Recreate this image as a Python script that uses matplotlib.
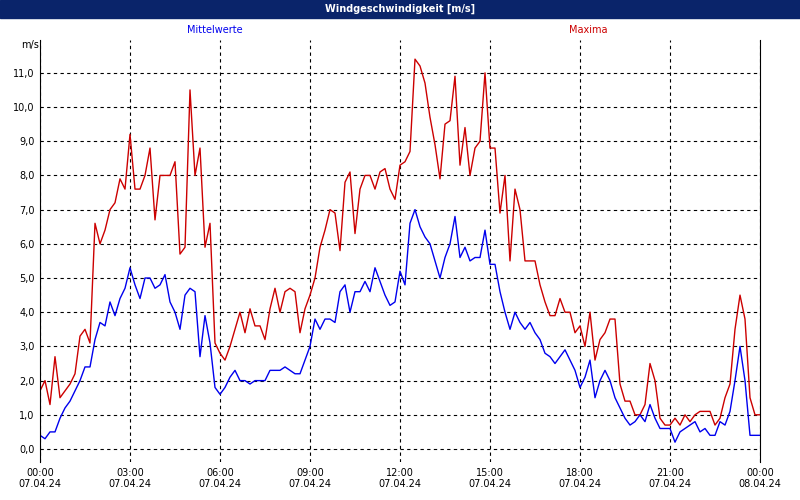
import matplotlib
matplotlib.use("Agg")
import matplotlib.pyplot as plt
import numpy as np

maxima = [1.7, 2.0, 1.3, 2.7, 1.5, 1.7,
          1.9, 2.2, 3.3, 3.5, 3.1, 6.6,
          6.0, 6.4, 7.0, 7.2, 7.9, 7.6,
          9.2, 7.6, 7.6, 8.0, 8.8, 6.7,
          8.0, 8.0, 8.0, 8.4, 5.7, 5.9,
          10.5, 8.0, 8.8, 5.9, 6.6, 3.1,
          2.8, 2.6, 3.0, 3.5, 4.0, 3.4,
          4.1, 3.6, 3.6, 3.2, 4.1, 4.7,
          4.0, 4.6, 4.7, 4.6, 3.4, 4.1,
          4.5, 5.0, 5.9, 6.4, 7.0, 6.9,
          5.8, 7.8, 8.1, 6.3, 7.6, 8.0,
          8.0, 7.6, 8.1, 8.2, 7.6, 7.3,
          8.3, 8.4, 8.7, 11.4, 11.2, 10.7,
          9.7, 8.9, 7.9, 9.5, 9.6, 10.9,
          8.3, 9.4, 8.0, 8.8, 9.0, 11.0,
          8.8, 8.8, 6.9, 8.0, 5.5, 7.6,
          7.0, 5.5, 5.5, 5.5, 4.8, 4.3,
          3.9, 3.9, 4.4, 4.0, 4.0, 3.4,
          3.6, 3.0, 4.0, 2.6, 3.2, 3.4,
          3.8, 3.8, 1.9, 1.4, 1.4, 1.0,
          1.0, 1.3, 2.5, 2.0, 0.9, 0.7,
          0.7, 0.9, 0.7, 1.0, 0.8, 1.0,
          1.1, 1.1, 1.1, 0.7, 0.9, 1.5,
          1.9, 3.5, 4.5, 3.8, 1.5, 1.0,
          1.0]
mittel = [0.4, 0.3, 0.5, 0.5, 0.9, 1.2,
          1.4, 1.7, 2.0, 2.4, 2.4, 3.2,
          3.7, 3.6, 4.3, 3.9, 4.4, 4.7,
          5.3, 4.8, 4.4, 5.0, 5.0, 4.7,
          4.8, 5.1, 4.3, 4.0, 3.5, 4.5,
          4.7, 4.6, 2.7, 3.9, 3.1, 1.8,
          1.6, 1.8, 2.1, 2.3, 2.0, 2.0,
          1.9, 2.0, 2.0, 2.0, 2.3, 2.3,
          2.3, 2.4, 2.3, 2.2, 2.2, 2.6,
          3.0, 3.8, 3.5, 3.8, 3.8, 3.7,
          4.6, 4.8, 4.0, 4.6, 4.6, 4.9,
          4.6, 5.3, 4.9, 4.5, 4.2, 4.3,
          5.2, 4.8, 6.6, 7.0, 6.5, 6.2,
          6.0, 5.5, 5.0, 5.6, 6.0, 6.8,
          5.6, 5.9, 5.5, 5.6, 5.6, 6.4,
          5.4, 5.4, 4.6, 4.0, 3.5, 4.0,
          3.7, 3.5, 3.7, 3.4, 3.2, 2.8,
          2.7, 2.5, 2.7, 2.9, 2.6, 2.3,
          1.8, 2.1, 2.6, 1.5, 2.0, 2.3,
          2.0, 1.5, 1.2, 0.9, 0.7, 0.8,
          1.0, 0.8, 1.3, 0.9, 0.6, 0.6,
          0.6, 0.2, 0.5, 0.6, 0.7, 0.8,
          0.5, 0.6, 0.4, 0.4, 0.8, 0.7,
          1.1, 2.0, 3.0, 2.0, 0.4, 0.4,
          0.4]
xtick_labels = ["00:00\n07.04.24", "03:00\n07.04.24", "06:00\n07.04.24", "09:00\n07.04.24",
                "12:00\n07.04.24", "15:00\n07.04.24", "18:00\n07.04.24", "21:00\n07.04.24",
                "00:00\n08.04.24"]
ytick_labels = ["0,0", "1,0", "2,0", "3,0", "4,0", "5,0", "6,0", "7,0", "8,0", "9,0", "10,0", "11,0"]

hours = np.arange(len(maxima)) / 6.0

fig = plt.figure(figsize=(8, 5), dpi=100, facecolor="white")
fig.patches.append(plt.Rectangle((0, 1 - 18 / 500), 1, 18 / 500, transform=fig.transFigure,
                                 color="#0a246a", zorder=0))
fig.text(0.5, 1 - 9 / 500, "Windgeschwindigkeit [m/s]", color="white", fontsize=7,
         fontweight="bold", ha="center", va="center")
fig.text(215 / 800, 1 - 30 / 500, "Mittelwerte", color="#0000ee", fontsize=7, ha="center", va="center")
fig.text(588 / 800, 1 - 30 / 500, "Maxima", color="#cc0000", fontsize=7, ha="center", va="center")
fig.text(30 / 800, 1 - 45 / 500, "m/s", color="black", fontsize=7, ha="center", va="center")

ax = fig.add_axes([40 / 800, 1 - 462 / 500, 720 / 800, 422 / 500])
ax.set_facecolor("white")
ax.plot(hours, maxima, color="#cc0000", lw=1)
ax.plot(hours, mittel, color="#0000ee", lw=1)
ax.set_xlim(0, 24)
ax.set_ylim(-0.38, 11.96)
ax.set_xticks(np.arange(0, 25, 3))
ax.set_xticklabels(xtick_labels, fontsize=7)
ax.set_yticks(np.arange(0, 12))
ax.set_yticklabels(ytick_labels, fontsize=7)
ax.grid(True, color="black", linestyle=(0, (3, 3)), lw=0.8)
for s in ["top", "bottom"]:
    ax.spines[s].set_visible(False)
ax.spines["left"].set_color("black")
ax.spines["right"].set_color("black")
ax.tick_params(length=0, pad=4)
fig.savefig("out.png", dpi=100, facecolor=fig.get_facecolor())
